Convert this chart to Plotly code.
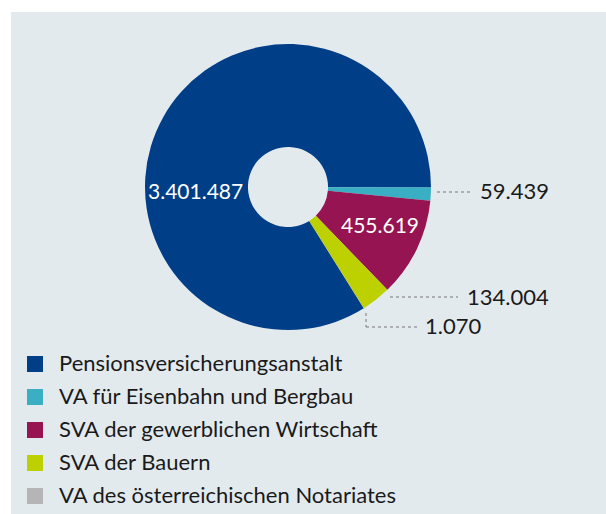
import plotly.graph_objects as go

W, H = 606, 514

labels = ["Pensionsversicherungsanstalt", "VA für Eisenbahn und Bergbau",
          "SVA der gewerblichen Wirtschaft", "SVA der Bauern",
          "VA des österreichischen Notariates"]
values = [3401487, 59439, 455619, 134004, 1070]
colors = ["#003f87", "#3aaec2", "#961452", "#bdd000", "#b5b4b7"]

FONT = "Lato"
TEXT_DARK = "#1a1a1a"


def de_fmt(v):
    return f"{v:,}".replace(",", ".")


def px(x):
    return x / W


def py(y):
    return 1 - y / H


fig = go.Figure()

# pie geometry (pixels)
cx, cy, r = 288, 187, 143
fig.add_trace(go.Pie(
    labels=labels, values=values, sort=False, direction="clockwise",
    rotation=148, hole=0.28, textinfo="none", hoverinfo="label+value",
    marker=dict(colors=colors, line=dict(width=0)),
    domain=dict(x=[px(cx - r), px(cx + r)], y=[py(cy + r), py(cy - r)]),
    showlegend=False,
))

shapes = [dict(type="rect", xref="paper", yref="paper", x0=px(11), x1=1, y0=0, y1=py(12),
               fillcolor="#e3eaee", line=dict(width=0), layer="below")]

annotations = []
# inside labels
annotations.append(dict(x=px(196), y=py(190), xanchor="center", yanchor="middle",
                        text=de_fmt(values[0]), showarrow=False,
                        font=dict(family=FONT, size=21, color="white")))
annotations.append(dict(x=px(380), y=py(224), xanchor="center", yanchor="middle",
                        text=de_fmt(values[2]), showarrow=False,
                        font=dict(family=FONT, size=21, color="white")))
# outside labels
outside = [(1, 478, 190), (3, 465, 296), (4, 423, 325)]
for idx, x, y in outside:
    annotations.append(dict(x=px(x), y=py(y), xanchor="left", yanchor="middle",
                            text=de_fmt(values[idx]), showarrow=False,
                            font=dict(family=FONT, size=22, color=TEXT_DARK)))

dot = dict(color="#777777", width=1, dash="dot")
lines = [
    [(437, 192), (473, 192)],
    [(390, 297), (458, 297)],
    [(366, 313), (366, 327), (417, 327)],
]
for pts in lines:
    for (x0, y0), (x1, y1) in zip(pts[:-1], pts[1:]):
        shapes.append(dict(type="line", xref="paper", yref="paper",
                           x0=px(x0), y0=py(y0), x1=px(x1), y1=py(y1), line=dot))

# legend (manual)
row_y = [364, 397, 430, 463, 496]
for lab, col, y in zip(labels, colors, row_y):
    shapes.append(dict(type="rect", xref="paper", yref="paper",
                       x0=px(27), x1=px(43), y0=py(y + 8), y1=py(y - 8),
                       fillcolor=col, line=dict(width=0)))
    annotations.append(dict(x=px(57), y=py(y - 2), xanchor="left", yanchor="middle",
                            text=lab, showarrow=False,
                            font=dict(family=FONT, size=22, color=TEXT_DARK)))

fig.update_layout(
    width=W, height=H, margin=dict(l=0, r=0, t=0, b=0),
    paper_bgcolor="white", plot_bgcolor="white",
    shapes=shapes, annotations=annotations,
    font=dict(family=FONT),
)

fig.write_html("out.html", config=dict(displayModeBar=False),
               post_script="document.body.style.margin='0';")
